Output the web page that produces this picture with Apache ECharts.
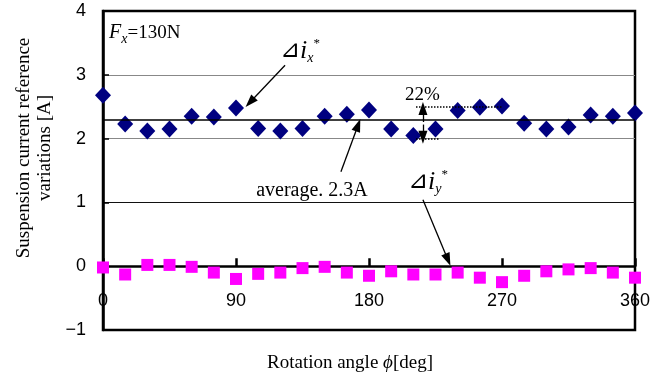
<!DOCTYPE html>
<html lang="en">
<head>
    <meta charset="UTF-8">
    <script src="https://cdn.jsdelivr.net/npm/echarts@6/dist/echarts.min.js"></script>
    <style>
        html, body { margin: 0; padding: 0; background: #fff; }
        #chart { width: 672px; height: 379px; }
    </style>
</head>
<body>
<div id="chart"></div>
<script>
    // rotation angle [deg]
    var angles = [0, 15, 30, 45, 60, 75, 90, 105, 120, 135, 150, 165, 180,
                  195, 210, 225, 240, 255, 270, 285, 300, 315, 330, 345, 360];
    // delta ix* [A]
    var ixVals = [2.68, 2.23, 2.12, 2.15, 2.35, 2.34, 2.48, 2.16, 2.12, 2.16, 2.35, 2.38, 2.45,
                  2.15, 2.05, 2.15, 2.44, 2.49, 2.51, 2.24, 2.15, 2.18, 2.37, 2.35, 2.40];
    // delta iy* [A]
    var iyVals = [-0.02, -0.13, 0.02, 0.02, -0.01, -0.10, -0.20, -0.12, -0.10, -0.03, -0.01, -0.10, -0.15,
                  -0.08, -0.13, -0.13, -0.10, -0.18, -0.25, -0.15, -0.08, -0.05, -0.03, -0.10, -0.18];
    var xTicks = [0, 90, 180, 270, 360];
    var yTicks = [-1, 0, 1, 2, 3, 4];
    var average = 2.3;

    var serif = '"Liberation Serif", "Times New Roman", serif';
    var sans = '"Liberation Sans", Arial, sans-serif';

    function pairs(xs, ys) {
        return xs.map(function (x, i) { return [x, ys[i]]; });
    }

    var arrowEnd = { symbol: 'triangle', symbolSize: [9, 13] };
    function arrow(x1, y1, x2, y2) {
        return [{ coord: [x1, y1] }, Object.assign({ coord: [x2, y2] }, arrowEnd)];
    }

    function deltaRich(size) {
        return {
            d: { fontSize: size, fontFamily: '"DejaVu Sans", sans-serif', lineHeight: 28, fill: '#000' },
            i: { fontStyle: 'italic', fontSize: size + 2, fontFamily: serif, lineHeight: 28, fill: '#000' },
            s: { fontStyle: 'italic', fontSize: 14, fontFamily: serif, verticalAlign: 'bottom', lineHeight: 14, fill: '#000' },
            p: { fontSize: 13, fontFamily: serif, verticalAlign: 'top', lineHeight: 13, fill: '#000' }
        };
    }

    var mChart = echarts.init(document.getElementById('chart'));

    var option = {
        animation: false,
        backgroundColor: '#fff',
        grid: {
            left: 103, right: 37, top: 11, bottom: 49,
            show: true, borderColor: '#000', borderWidth: 2.5,
            outerBoundsMode: 'none'
        },
        xAxis: {
            type: 'value',
            min: xTicks[0], max: xTicks[xTicks.length - 1], interval: 90,
            axisLine: { onZero: true, lineStyle: { color: '#000', width: 2.5 } },
            axisTick: { inside: true, length: 8, lineStyle: { color: '#000', width: 2.5 } },
            axisLabel: { margin: -38, fontSize: 18, color: '#000', fontFamily: sans },
            splitLine: { show: false }
        },
        yAxis: {
            type: 'value',
            min: yTicks[0], max: yTicks[yTicks.length - 1], interval: 1,
            axisLine: { show: true, lineStyle: { color: '#000', width: 2.5 } },
            axisTick: { show: true, inside: true, length: 6, lineStyle: { color: '#000', width: 1.5 } },
            axisLabel: {
                margin: 17, fontSize: 18, color: '#000', fontFamily: sans,
                formatter: function (v) { return String(v).replace('-', '\u2212'); }
            },
            splitLine: {
                show: true,
                lineStyle: { color: ['#000', '#000', '#111', '#888', '#888', '#000'], width: 1.2 }
            }
        },
        series: [
            {
                name: 'iy',
                type: 'scatter',
                data: pairs(angles, iyVals),
                symbol: 'rect',
                symbolSize: 12,
                itemStyle: { color: '#FF00FF', opacity: 1 },
                z: 3,
                silent: true
            },
            {
                name: 'ix',
                type: 'scatter',
                data: pairs(angles, ixVals),
                symbol: 'diamond',
                symbolSize: [16, 17],
                itemStyle: { color: '#000080', opacity: 1 },
                z: 4,
                silent: true,
                markLine: {
                    silent: true,
                    symbol: ['none', 'none'],
                    label: { show: false },
                    lineStyle: { color: '#000', width: 1.3, type: 'solid', opacity: 1 },
                    data: [
                        { yAxis: average, lineStyle: { color: '#000', width: 1.5, type: 'solid' } },
                        arrow(123.2, 3.15, 99.5, 2.57),
                        arrow(161.0, 1.48, 172.6, 2.21),
                        arrow(216.5, 1.04, 233.4, 0.10),
                        [
                            { coord: [216.5, 2.26], symbol: 'none' },
                            Object.assign({ coord: [216.5, 2.47] }, arrowEnd)
                        ],
                        [
                            { coord: [216.5, 2.22], symbol: 'none' },
                            Object.assign({ coord: [216.5, 2.02] }, arrowEnd)
                        ],
                        [
                            { coord: [211.8, 2.50], lineStyle: { type: 'dotted', width: 1.5, color: '#000' } },
                            { coord: [270, 2.50] }
                        ],
                        [
                            { coord: [211.8, 2.0], lineStyle: { type: 'dotted', width: 1.5, color: '#000' } },
                            { coord: [228, 2.0] }
                        ]
                    ]
                }
            }
        ],
        graphic: [
            {
                type: 'text', x: 35, y: 148, rotation: Math.PI / 2,
                style: {
                    text: 'Suspension current reference\nvariations [A]',
                    font: '19px ' + serif, fill: '#000',
                    align: 'center', verticalAlign: 'middle', lineHeight: 21
                }
            },
            {
                type: 'text', x: 350, y: 363,
                style: {
                    text: 'Rotation angle {i|\u03d5}[deg]',
                    font: '19px ' + serif, fill: '#000',
                    align: 'center', verticalAlign: 'middle',
                    rich: { i: { fontStyle: 'italic', fontSize: 19, fontFamily: serif, fill: '#000' } }
                }
            },
            {
                type: 'text', x: 109, y: 33,
                style: {
                    text: '{i|F}{s|x}{n|=130N}',
                    fill: '#000', align: 'left', verticalAlign: 'middle',
                    rich: {
                        i: { fontStyle: 'italic', fontSize: 20, fontFamily: serif, lineHeight: 26, fill: '#000' },
                        s: { fontStyle: 'italic', fontSize: 14, fontFamily: serif, verticalAlign: 'bottom', lineHeight: 14, fill: '#000' },
                        n: { fontSize: 19, fontFamily: serif, lineHeight: 26, fill: '#000' }
                    }
                }
            },
            {
                type: 'text', x: 280, y: 51,
                style: {
                    text: '{d|\u22bf}{i|i}{s|x}{p|*}',
                    fill: '#000', align: 'left', verticalAlign: 'middle',
                    rich: deltaRich(24)
                }
            },
            {
                type: 'text', x: 408, y: 182,
                style: {
                    text: '{d|\u22bf}{i|i}{s|y}{p|*}',
                    fill: '#000', align: 'left', verticalAlign: 'middle',
                    rich: deltaRich(24)
                }
            },
            {
                type: 'text', x: 405, y: 95,
                style: { text: '22%', font: '19px ' + serif, fill: '#000', align: 'left', verticalAlign: 'middle' }
            },
            {
                type: 'text', x: 312, y: 191,
                style: { text: 'average. 2.3A', font: '20px ' + serif, fill: '#000', align: 'center', verticalAlign: 'middle' }
            }
        ]
    };
    mChart.setOption(option);
</script>
</body>
</html>
